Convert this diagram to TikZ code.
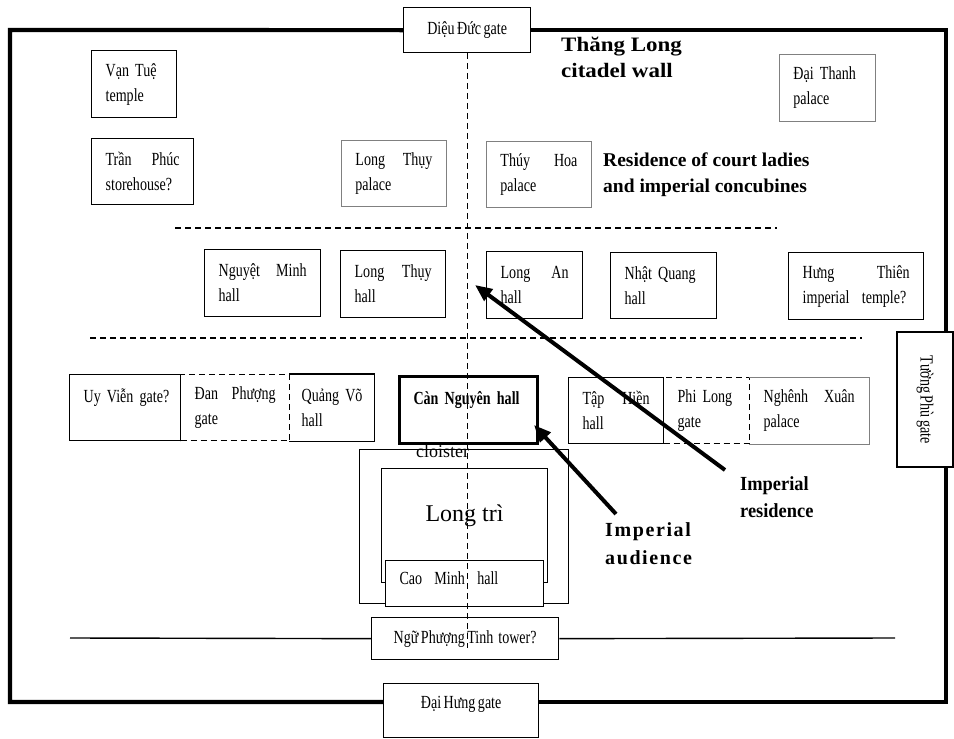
\documentclass[tikz,border=0pt]{standalone}
\usepackage{fontspec}
\setmainfont{Liberation Serif}
\newfontfamily\boxfont[FakeStretch=0.76,WordSpace=0.7]{Liberation Serif}
\newfontfamily\tagfont[FakeStretch=0.92]{Liberation Serif}
\newfontfamily\widefont[FakeStretch=1.12]{Liberation Serif}
\newfontfamily\spacedfont[LetterSpace=8]{Liberation Serif}
\usetikzlibrary{positioning,arrows.meta}

\tikzset{
  bx/.style={draw, line width=1.3, anchor=north west, inner xsep=14, inner ysep=0,
    align=left, font=\boxfont\fontsize{18.5}{25}\selectfont},
  palebx/.style={bx, draw=black!50, line width=0.9},
  openbx/.style={bx, draw=none},
  dashbx/.style={bx, dash pattern=on 6pt off 4pt},
  gatebx/.style={draw, line width=1.3, inner sep=0, align=center,
    font=\boxfont\fontsize{18.5}{25}\selectfont},
  thinbx/.style={draw, line width=1, anchor=north west, inner sep=0},
  wall/.style={line width=4.2, line join=miter},
  divide/.style={line width=1.3, dash pattern=on 6pt off 4pt},
  pointer/.style={line width=4, -{Triangle[length=17pt,width=14pt]}},
  tag/.style={anchor=north west, inner sep=0, align=left}
}

\begin{document}
\begin{tikzpicture}[x=1pt,y=-1pt]
\useasboundingbox (0,0) rectangle (954,739);

\node[gatebx, anchor=north west, minimum width=127, minimum height=45] (dieuduc) at (403,7) {Diệu Đức gate};
\node[gatebx, anchor=north west, minimum width=155, minimum height=54, text depth=16] (daihung) at (383,683) {Đại Hưng gate};
\node[gatebx, rotate=-90, minimum width=135, minimum height=56] (tuongphu) at (925,399.5) {Tường Phù gate};

\coordinate (nw) at (10,30);
\coordinate (ne) at (946,30);
\coordinate (sw) at (10,702);
\coordinate (se) at (946,702);
\draw[wall] (dieuduc.west) -- (nw) -- (sw) -- (sw -| daihung.west);
\draw[wall] (dieuduc.east |- ne) -- (ne) -- (ne |- tuongphu.west);
\draw[wall] (ne |- tuongphu.east) -- (se) -- (se -| daihung.east);

\node[tag, font=\widefont\bfseries\fontsize{20.5}{26}\selectfont] (wallLbl) at (561,37) {Thăng Long\\citadel wall};

\node[bx, text width=57, minimum height=67] (vantue) at (91,50) {Vạn Tuệ\\temple};
\node[bx, text width=74, minimum height=66] (tranphuc) at (91,138) {Trần\hfill Phúc\\storehouse?};
\node[palebx, text width=77, minimum height=66] (longthuyP) at (341,140) {Long\hfill Thụy\\palace};
\node[palebx, text width=77, minimum height=66] (thuyhoa) at (486,141) {Thúy\hfill Hoa\\palace};
\node[palebx, text width=68, minimum height=67] (daithanh) at (779,54) {Đại Thanh\\palace};
\node[tag, font=\bfseries\fontsize{19.5}{26}\selectfont] (ladiesLbl) at (603,153) {Residence of court ladies\\and imperial concubines};

\draw[divide] (175,228) -- (777,228);

\node[bx, text width=88, minimum height=67] (nguyetminh) at (204,249) {Nguyệt\hfill Minh\\hall};
\node[bx, text width=77, minimum height=67] (longthuyH) at (340,250) {Long\hfill Thụy\\hall};
\node[bx, text width=68, minimum height=67] (longan) at (486,251) {Long\hfill An\\hall};
\node[bx, text width=78, minimum height=66] (nhatquang) at (610,252) {Nhật Quang\\hall};
\node[bx, text width=107, minimum height=67] (hungthien) at (788,252) {Hưng\hfill Thiên\\imperial\ \ temple?};

\draw[divide] (90,338) -- (862,338);

\node[dashbx, text width=81, minimum height=66] (danphuong) at (180,374) {Đan\hfill Phượng\\gate};
\node[bx, text width=83, minimum height=66] (uyvien) at (69,374) {\mbox{Uy Viễn gate?}\\\mbox{}};
\node[openbx, inner xsep=12, text width=60, minimum height=66] (quangvo) at (289,374) {\mbox{Quảng Võ}\\hall};
\draw[line width=1.3] (quangvo.north west) -- (quangvo.north east) -- (quangvo.south east) -- (quangvo.south west);
\node[bx, line width=3, text width=110, minimum height=67, font=\boxfont\bfseries\fontsize{18.5}{25}\selectfont] (cannguyen) at (398,375) {Càn Nguyên hall\\\mbox{}};
\node[bx, text width=67, minimum height=66] (taphien) at (568,377) {Tập\hfill Hiền\\hall};
\node[dashbx, text width=58, minimum height=66] (philong) at (663,377) {Phi Long\\gate};
\node[openbx, text width=91, minimum height=66] (nghenhxuan) at (749,377) {Nghênh\hfill Xuân\\palace};
\draw[line width=0.9, draw=black!50] (nghenhxuan.north west) -- (nghenhxuan.north east) -- (nghenhxuan.south east) -- (nghenhxuan.south west);

\node[thinbx, minimum width=209, minimum height=154] (cloister) at (359,449) {};
\node[thinbx, minimum width=166, minimum height=114] (longtri) at (381,468) {};
\node[font=\fontsize{24}{28}\selectfont, inner sep=0] (longtriLbl) at ([yshift=10]longtri.center) {Long trì};
\node[thinbx, fill=white, minimum width=158, minimum height=46, inner xsep=14, text width=130, align=left, text depth=10,
  font=\boxfont\fontsize{18.5}{25}\selectfont] (caominh) at (385,560) {Cao\ \ Minh\ \ hall};
\node[anchor=base west, inner sep=0, font=\fontsize{18}{22}\selectfont] (cloisterLbl) at (416,457) {cloister};

\node[gatebx, anchor=north west, minimum width=187, minimum height=42] (ngu) at (371,617) {Ngữ Phượng Tinh\ \ tower?};
\draw[line width=1.4] (70,638) -- (ngu.west);
\draw[line width=1.4] (ngu.east) -- (895,638);

\draw[line width=1.3, dash pattern=on 6pt off 4pt] (dieuduc.south) -- ([yshift=-9]dieuduc.south |- ngu.center);

\coordinate (resTail) at (725,470);
\coordinate (resTip) at (475,285);
\coordinate (audTail) at (616,514);
\coordinate (audTip) at (534,425);
\draw[pointer] (resTail) -- (resTip);
\draw[pointer] (audTail) -- (audTip);

\node[tag, font=\tagfont\bfseries\fontsize{20}{27}\selectfont] (resLbl) at (740,476) {Imperial\\residence};
\node[tag, font=\spacedfont\bfseries\fontsize{20}{28}\selectfont] (audLbl) at (605,522) {Imperial\\audience};
\end{tikzpicture}
\end{document}
